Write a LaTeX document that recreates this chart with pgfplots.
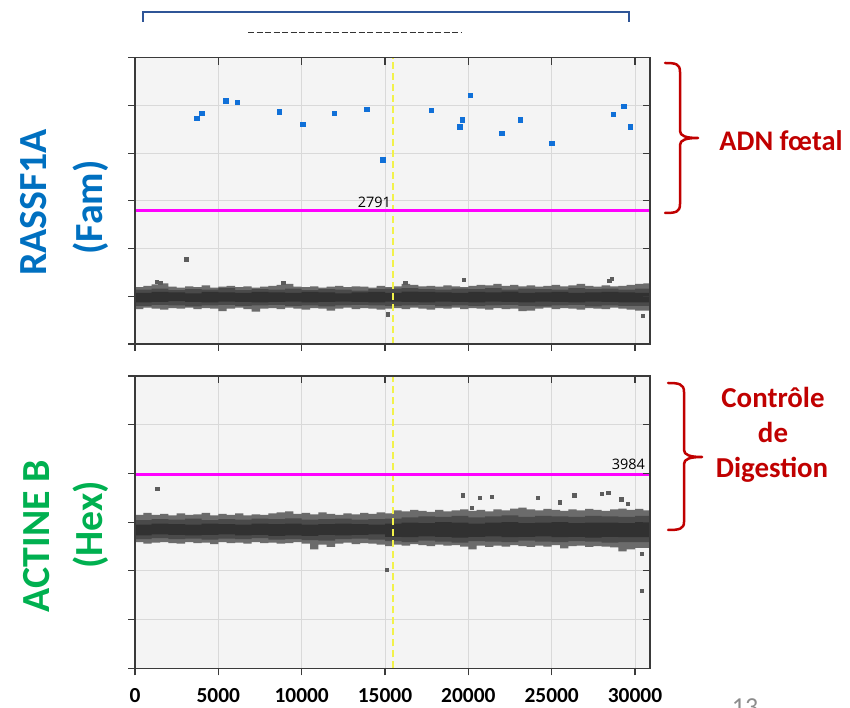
\documentclass[border=0pt]{standalone}
\usepackage{pgfplots}
\pgfplotsset{compat=1.18}
\usepackage{fontspec}
\setmainfont{Carlito}
\newfontfamily\osans{Open Sans}
\definecolor{bgc}{HTML}{F4F4F4}
\definecolor{gridc}{HTML}{D9D9D9}
\definecolor{axc}{HTML}{3A3A3A}
\definecolor{magc}{HTML}{FF00FF}
\definecolor{yelc}{HTML}{F2F24A}
\definecolor{dropblue}{HTML}{1070D8}
\definecolor{dropgray}{HTML}{5C5C5C}
\definecolor{bandA}{HTML}{6B6B6B}
\definecolor{bandB}{HTML}{4A4A4A}
\definecolor{bandC}{HTML}{313131}
\definecolor{txtblue}{HTML}{0070C0}
\definecolor{txtgreen}{HTML}{00B050}
\definecolor{txtred}{HTML}{C00000}
\definecolor{brc}{HTML}{2F5597}

\pgfplotsset{
  ddbase/.style={
    scale only axis, width=515bp,
    xmin=0, xmax=30900, ymin=0, ymax=6000,
    xtick={0,5000,...,30000}, ytick={0,1000,...,6000},
    scaled x ticks=false, scaled y ticks=false,
    yticklabels={},
    axis line style={draw=axc, line width=1.3bp},
    tick style={draw=axc, line width=1.2bp},
    major tick length=7bp,
    /pgf/number format/1000 sep={},
    /pgf/number format/assume math mode=true,
  },
  ddmain/.style={ddbase,
    grid=major, grid style={draw=gridc, line width=0.9bp},
    axis background/.style={fill=bgc},
    tick align=outside, xtick pos=lower, ytick pos=left,
  },
  ddover/.style={ddbase,
    tick align=inside, xtick pos=upper, ytick pos=right,
    xticklabels={},
  },
}

\begin{document}
\begin{tikzpicture}[x=1bp,y=1bp]

% ================= TOP PANEL (RASSF1A / FAM) =================
\begin{axis}[ddmain, at={(135bp,364bp)}, anchor=south west, height=286.3bp, xticklabels={}]
\addplot[const plot, fill=bandA, draw=none] coordinates {
(0,1190)(500,1220)(1000,1250)(1500,1270)(2000,1200)(2500,1180)(3000,1210)(3500,1190)(4000,1230)(4500,1180)
(5000,1200)(5500,1220)(6000,1190)(6500,1210)(7000,1180)(7500,1200)(8000,1220)(8500,1240)(9000,1260)(9500,1200)
(10000,1190)(10500,1210)(11000,1180)(11500,1200)(12000,1220)(12500,1190)(13000,1210)(13500,1200)(14000,1180)(14500,1220)
(15000,1190)(15500,1210)(16000,1260)(16500,1240)(17000,1210)(17500,1220)(18000,1200)(18500,1230)(19000,1210)(19500,1190)
(20000,1220)(20500,1240)(21000,1230)(21500,1260)(22000,1220)(22500,1240)(23000,1210)(23500,1230)(24000,1200)(24500,1220)
(25000,1240)(25500,1210)(26000,1230)(26500,1260)(27000,1220)(27500,1200)(28000,1230)(28500,1210)(29000,1220)(29500,1240)
(30000,1260)(30500,1270)(30900,1270)
(30900,700)(30500,700)(30000,720)(29500,740)(29000,760)(28500,730)(28000,740)(27500,750)(27000,720)(26500,740)
(26000,750)(25500,730)(25000,760)(24500,740)(24000,700)(23500,690)(23000,740)(22500,730)(22000,750)(21500,720)
(21000,740)(20500,750)(20000,730)(19500,760)(19000,740)(18500,750)(18000,720)(17500,740)(17000,760)(16500,730)
(16000,750)(15500,740)(15000,720)(14500,740)(14000,750)(13500,730)(13000,760)(12500,740)(12000,700)(11500,740)
(11000,750)(10500,720)(10000,740)(9500,760)(9000,730)(8500,750)(8000,740)(7500,680)(7000,730)(6500,760)
(6000,740)(5500,690)(5000,740)(4500,750)(4000,730)(3500,760)(3000,740)(2500,750)(2000,720)(1500,740)
(1000,760)(500,730)(0,750)
};
\addplot[const plot, fill=bandB, draw=none] coordinates {
(0,1140)(1000,1160)(2000,1130)(3000,1150)(4000,1140)(5000,1170)(6000,1130)(7000,1150)(8000,1140)(9000,1160)
(10000,1130)(11000,1150)(12000,1140)(13000,1120)(14000,1150)(15000,1160)(16000,1170)(17000,1150)(18000,1140)(19000,1160)
(20000,1150)(21000,1170)(22000,1140)(23000,1160)(24000,1150)(25000,1140)(26000,1170)(27000,1150)(28000,1160)(29000,1140)
(30000,1160)(30900,1160)
(30900,800)(30000,800)(29000,810)(28000,790)(27000,820)(26000,810)(25000,790)(24000,800)(23000,820)(22000,810)
(21000,800)(20000,810)(19000,790)(18000,820)(17000,810)(16000,800)(15000,810)(14000,820)(13000,810)(12000,790)
(11000,810)(10000,800)(9000,820)(8000,810)(7000,800)(6000,820)(5000,810)(4000,790)(3000,810)(2000,820)
(1000,800)(0,810)
};
\addplot[const plot, fill=bandC, draw=none] coordinates {
(0,1070)(1000,1090)(2000,1080)(3000,1060)(4000,1090)(5000,1080)(6000,1070)(7000,1090)(8000,1080)(9000,1070)
(10000,1090)(11000,1080)(12000,1060)(13000,1080)(14000,1090)(15000,1070)(16000,1100)(17000,1090)(18000,1080)(19000,1070)
(20000,1090)(21000,1080)(22000,1100)(23000,1070)(24000,1080)(25000,1090)(26000,1070)(27000,1080)(28000,1090)(29000,1080)
(30000,1070)(30900,1070)
(30900,870)(30000,870)(29000,880)(28000,890)(27000,870)(26000,880)(25000,890)(24000,870)(23000,880)(22000,890)
(21000,870)(20000,880)(19000,890)(18000,870)(17000,880)(16000,890)(15000,870)(14000,880)(13000,890)(12000,880)
(11000,870)(10000,890)(9000,880)(8000,870)(7000,880)(6000,890)(5000,870)(4000,880)(3000,900)(2000,880)
(1000,870)(0,890)
};
\addplot[only marks, mark=square*, mark size=1.7bp, color=dropgray] coordinates {
(3079,1778)(19731,1342)(28450,1321)(28616,1370)(15165,625)(30475,597)(1300,1300)(1500,1290)(8900,1280)(16200,1290)
};
\addplot[only marks, mark=square*, mark size=2.2bp, color=dropblue] coordinates {
(3698,4728)(4008,4841)(5434,5101)(6136,5073)(8636,4869)(10062,4609)(11942,4841)(13905,4925)(14855,3864)
(17769,4897)(19483,4553)(19649,4700)(20103,5213)(22004,4412)(23099,4700)(25000,4208)(28698,4813)(29318,4981)(29711,4553)
};
\addplot[yelc, line width=1.8bp, dash pattern=on 7bp off 4bp] coordinates {(15500,0)(15500,6000)};
\addplot[magc, line width=3bp] coordinates {(0,2791)(30900,2791)};
\node[font=\osans\fontsize{14.5}{14.5}\selectfont, anchor=base east, inner sep=0pt, yshift=3bp] at (axis cs:15360,2791) {2791};
\end{axis}
\begin{axis}[ddover, at={(135bp,364bp)}, anchor=south west, height=286.3bp]
\end{axis}

% ================= BOTTOM PANEL (ACTINE B / HEX) =================
\begin{axis}[ddmain, at={(135bp,39.7bp)}, anchor=south west, height=292.3bp,
  xticklabel style={font=\fontsize{21.5}{21.5}\selectfont\bfseries, inner sep=1bp, yshift=-12bp}]
\addplot[const plot, fill=bandA, draw=none] coordinates {
(0,3150)(500,3190)(1000,3150)(1500,3170)(2000,3140)(2500,3180)(3000,3150)(3500,3160)(4000,3190)(4500,3140)
(5000,3170)(5500,3150)(6000,3180)(6500,3140)(7000,3160)(7500,3150)(8000,3180)(8500,3200)(9000,3220)(9500,3170)
(10000,3190)(10500,3160)(11000,3200)(11500,3170)(12000,3150)(12500,3180)(13000,3160)(13500,3190)(14000,3170)(14500,3200)
(15000,3180)(15500,3240)(16000,3220)(16500,3250)(17000,3230)(17500,3210)(18000,3250)(18500,3220)(19000,3240)(19500,3260)
(20000,3230)(20500,3250)(21000,3220)(21500,3260)(22000,3240)(22500,3280)(23000,3300)(23500,3260)(24000,3240)(24500,3270)
(25000,3250)(25500,3230)(26000,3260)(26500,3240)(27000,3270)(27500,3250)(28000,3230)(28500,3260)(29000,3280)(29500,3250)
(30000,3270)(30500,3240)(30900,3240)
(30900,2470)(30500,2470)(30000,2440)(29500,2400)(29000,2480)(28500,2500)(28000,2510)(27500,2490)(27000,2520)(26500,2510)
(26000,2460)(25500,2530)(25000,2500)(24500,2520)(24000,2490)(23500,2510)(23000,2530)(22500,2500)(22000,2520)(21500,2490)
(21000,2520)(20500,2440)(20000,2500)(19500,2530)(19000,2520)(18500,2540)(18000,2510)(17500,2530)(17000,2550)(16500,2520)
(16000,2540)(15500,2510)(15000,2540)(14500,2560)(14000,2570)(13500,2550)(13000,2580)(12500,2560)(12000,2490)(11500,2540)
(11000,2440)(10500,2560)(10000,2590)(9500,2570)(9000,2560)(8500,2580)(8000,2570)(7500,2590)(7000,2560)(6500,2580)
(6000,2570)(5500,2590)(5000,2550)(4500,2580)(4000,2570)(3500,2590)(3000,2560)(2500,2570)(2000,2590)(1500,2580)
(1000,2560)(500,2590)(0,2570)
};
\addplot[const plot, fill=bandB, draw=none] coordinates {
(0,3040)(1000,3060)(2000,3050)(3000,3070)(4000,3040)(5000,3060)(6000,3050)(7000,3070)(8000,3060)(9000,3080)
(10000,3050)(11000,3060)(12000,3070)(13000,3050)(14000,3060)(15000,3070)(16000,3100)(17000,3120)(18000,3110)(19000,3130)
(20000,3100)(21000,3120)(22000,3140)(23000,3110)(24000,3130)(25000,3120)(26000,3110)(27000,3130)(28000,3120)(29000,3110)
(30000,3130)(30900,3130)
(30900,2590)(30000,2590)(29000,2580)(28000,2600)(27000,2610)(26000,2590)(25000,2600)(24000,2620)(23000,2590)(22000,2600)
(21000,2610)(20000,2580)(19000,2600)(18000,2620)(17000,2590)(16000,2610)(15000,2640)(14000,2660)(13000,2650)(12000,2620)
(11000,2630)(10000,2650)(9000,2640)(8000,2670)(7000,2650)(6000,2660)(5000,2640)(4000,2660)(3000,2650)(2000,2670)
(1000,2650)(0,2660)
};
\addplot[const plot, fill=bandC, draw=none] coordinates {
(0,2950)(1000,2970)(2000,2960)(3000,2950)(4000,2970)(5000,2960)(6000,2950)(7000,2970)(8000,2960)(9000,2970)
(10000,2950)(11000,2960)(12000,2970)(13000,2960)(14000,2950)(15000,2970)(16000,2990)(17000,2980)(18000,3000)(19000,2990)
(20000,2970)(21000,2990)(22000,3000)(23000,2980)(24000,2990)(25000,3000)(26000,2980)(27000,2990)(28000,2990)(29000,2980)
(30000,3000)(30900,3000)
(30900,2690)(30000,2690)(29000,2700)(28000,2680)(27000,2700)(26000,2690)(25000,2710)(24000,2700)(23000,2690)(22000,2710)
(21000,2700)(20000,2680)(19000,2700)(18000,2710)(17000,2690)(16000,2700)(15000,2750)(14000,2740)(13000,2730)(12000,2740)
(11000,2720)(10000,2730)(9000,2720)(8000,2740)(7000,2730)(6000,2750)(5000,2740)(4000,2730)(3000,2740)(2000,2750)
(1000,2730)(0,2740)
};
\addplot[only marks, mark=square*, mark size=1.7bp, color=dropgray] coordinates {
(1322,3687)(19669,3551)(20682,3496)(21405,3523)(20207,3297)(24153,3496)(25475,3407)(26343,3551)(27996,3578)
(28388,3605)(29174,3468)(29566,3380)(15103,2018)(30413,2353)(30413,1587)
};
\addplot[yelc, line width=1.8bp, dash pattern=on 7bp off 4bp] coordinates {(15500,0)(15500,6000)};
\addplot[magc, line width=3bp] coordinates {(0,3984)(30900,3984)};
\node[font=\osans\fontsize{14.5}{14.5}\selectfont, anchor=base east, inner sep=0pt, yshift=4.3bp] at (axis cs:30600,3984) {3984};
\end{axis}
\begin{axis}[ddover, at={(135bp,39.7bp)}, anchor=south west, height=292.3bp]
\end{axis}

% ================= ANNOTATIONS =================
\draw[brc, line width=2.3bp] (143,686) -- (143,696) -- (629,696) -- (629,686);
\draw[black!80, line width=1.6bp, dash pattern=on 6bp off 2.5bp] (248,675.5) -- (461,675.5);

\node[rotate=90, font=\fontsize{40}{40}\selectfont\bfseries, text=txtblue] at (34,505.5) {RASSF1A};
\node[rotate=90, font=\fontsize{40}{40}\selectfont\bfseries, text=txtblue] at (90.5,500.5) {(Fam)};
\node[rotate=90, font=\fontsize{40}{40}\selectfont\bfseries, text=txtgreen] at (36.5,172) {ACTINE B};
\node[rotate=90, font=\fontsize{40}{40}\selectfont\bfseries, text=txtgreen] at (91,183) {(Hex)};

\draw[txtred, line width=2.5bp, line cap=round, line join=round]
  (665,645) .. controls (676,645) and (680,644) .. (680,636) -- (680,577)
  .. controls (680,572) and (686,570) .. (698,570)
  .. controls (686,570) and (680,568) .. (680,563) -- (680,504)
  .. controls (680,496) and (676,495) .. (665,495);
\draw[txtred, line width=2.5bp, line cap=round, line join=round]
  (668,325) .. controls (679,325) and (684,324) .. (684,316) -- (684,258)
  .. controls (684,253) and (690,251) .. (702,251)
  .. controls (690,251) and (684,249) .. (684,244) -- (684,186)
  .. controls (684,179) and (679,178) .. (668,178);

\node[anchor=base, font=\fontsize{28.5}{28.5}\selectfont\bfseries, text=txtred] at (781,557) {ADN fœtal};
\node[anchor=base, font=\fontsize{29}{29}\selectfont\bfseries, text=txtred] at (773,300) {Contrôle};
\node[anchor=base, font=\fontsize{29}{29}\selectfont\bfseries, text=txtred] at (773,265) {de};
\node[anchor=base, font=\fontsize{29}{29}\selectfont\bfseries, text=txtred] at (772,230) {Digestion};

\node[anchor=base, font=\fontsize{26}{26}\selectfont, text=black!45] at (745,-8) {13};

\pgfresetboundingbox
\path[use as bounding box] (0,0) rectangle (850,708);
\end{tikzpicture}
\end{document}
